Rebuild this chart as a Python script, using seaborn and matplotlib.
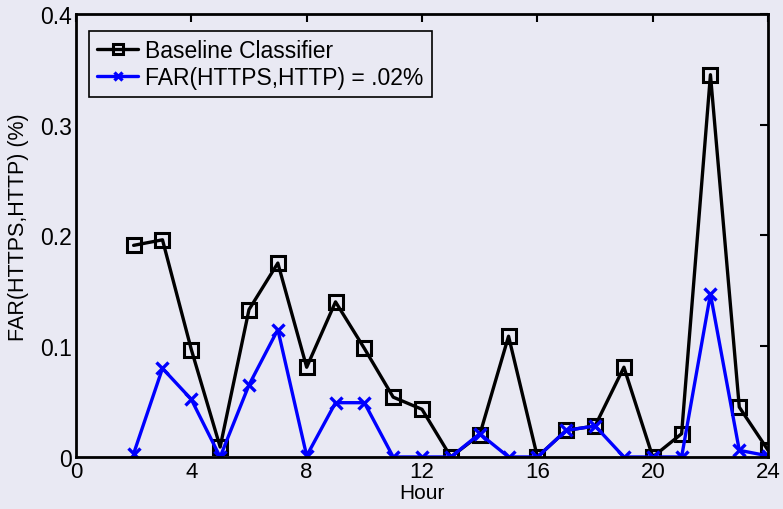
import matplotlib
matplotlib.use("Agg")
import matplotlib.pyplot as plt
import seaborn as sns
import pandas as pd

hours = list(range(2, 25))
baseline = [0.191, 0.196, 0.097, 0.009, 0.133, 0.175, 0.081, 0.140, 0.098, 0.054, 0.043,
            0.0, 0.020, 0.109, 0.0, 0.024, 0.028, 0.081, 0.0, 0.021, 0.345, 0.045, 0.006]
far02 = [0.003, 0.080, 0.052, 0.0, 0.065, 0.115, 0.001, 0.049, 0.049, 0.0, 0.0,
         0.0, 0.021, 0.0, 0.0, 0.024, 0.028, 0.0, 0.0, 0.0, 0.147, 0.006, 0.001]
labels = ["Baseline Classifier", "FAR(HTTPS,HTTP) = .02%"]
xticks = [0, 4, 8, 12, 16, 20, 24]
yticks = [0, 0.1, 0.2, 0.3, 0.4]
yticklabels = ["0", "0.1", "0.2", "0.3", "0.4"]

sns.set_style("white")
plt.rcParams['font.family'] = ['Liberation Sans', 'DejaVu Sans']
plt.rcParams['text.color'] = 'black'
plt.rcParams['axes.labelcolor'] = 'black'
bg = "#E9E9F3"
fs = 16.5

fig = plt.figure(figsize=(7.83, 5.10), dpi=100, facecolor=bg)
ax = fig.add_axes([0.097, 0.102, 0.884, 0.869])
ax.set_facecolor(bg)

df = pd.DataFrame({"Hour": hours, "b": baseline, "f": far02})
sns.lineplot(data=df, x="Hour", y="b", ax=ax, color="black", lw=2.4, marker="s",
             markersize=10, markerfacecolor="none", markeredgecolor="black",
             markeredgewidth=2.2, label=labels[0])
sns.lineplot(data=df, x="Hour", y="f", ax=ax, color="#0000FF", lw=2.4, marker="x",
             markersize=8, markeredgecolor="#0000FF", markeredgewidth=2.4, label=labels[1])

ax.set_xlim(0, 24)
ax.set_ylim(0, 0.4)
ax.set_xticks(xticks)
ax.set_yticks(yticks)
ax.set_yticklabels(yticklabels)
ax.tick_params(direction="in", length=6, width=1.5, top=True, right=True,
               labelsize=fs, colors="black")
ax.tick_params(axis="x", pad=3, labelsize=16)
ax.tick_params(axis="y", pad=3)
for s in ax.spines.values():
    s.set_visible(True)
    s.set_color("black")
    s.set_linewidth(2)
ax.set_xlabel("Hour", fontsize=15, labelpad=0.5, color="black")
ax.set_ylabel("FAR(HTTPS,HTTP) (%)", fontsize=15.5, labelpad=8, color="black")
ax.yaxis.label.set_y(0.52)

leg = ax.legend(loc="upper left", bbox_to_anchor=(0.019, 0.962), fontsize=fs,
                frameon=True, fancybox=False, borderpad=0.35, handlelength=1.8,
                handletextpad=0.3, labelspacing=0.2, borderaxespad=0, markerscale=0.65)
leg.get_frame().set_edgecolor("black")
leg.get_frame().set_facecolor(bg)
leg.get_frame().set_linewidth(1.2)
leg.get_frame().set_alpha(1)
for t in leg.get_texts():
    t.set_color("black")

fig.savefig("out.png", dpi=100, facecolor=bg)
